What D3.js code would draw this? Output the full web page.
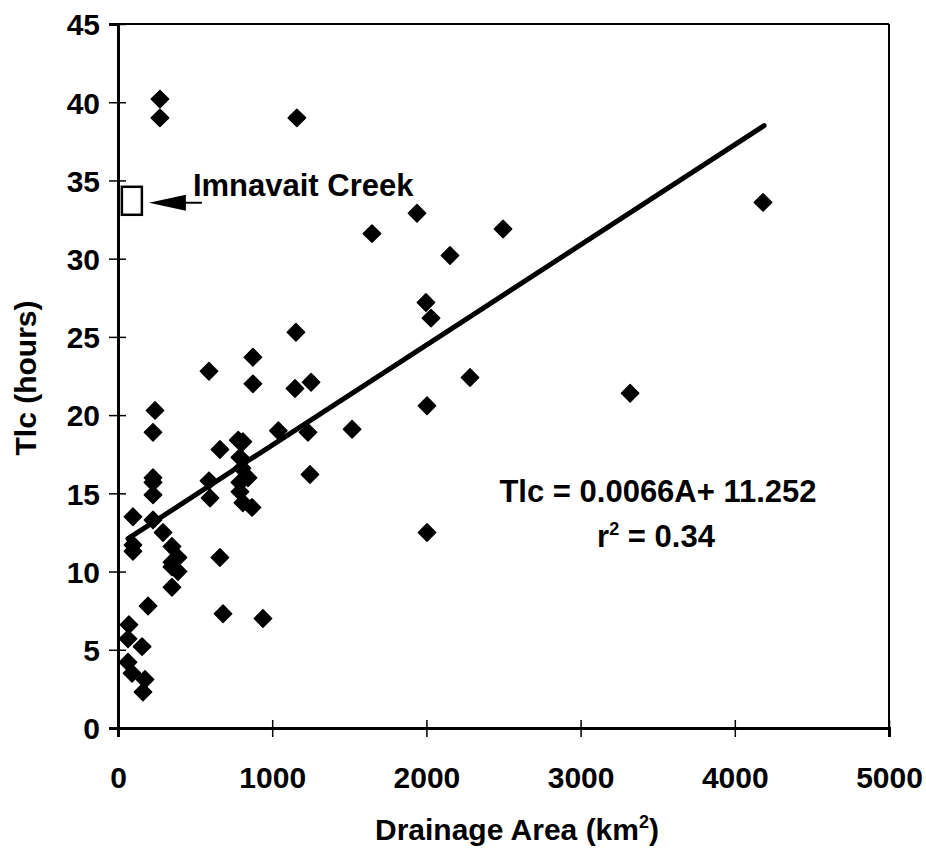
<!DOCTYPE html>
<html>
<head>
<meta charset="utf-8">
<script src="https://cdn.jsdelivr.net/npm/d3@7"></script>
<style>
  html, body { margin: 0; padding: 0; background: #fff; }
  svg { display: block; }
  text { font-family: "Liberation Sans", Arial, sans-serif; font-weight: bold; fill: #000; }
</style>
</head>
<body>
<svg id="chart" width="926" height="858"></svg>
<script>
// ---- data ----
const drainageArea = [
  272, 272, 1160,
  1939, 1647, 2497, 2153, 1997, 2030, 1154, 875, 590, 875, 1148, 1252, 2283,
  4183, 3321,
  1040, 1232, 1518, 1245, 2004, 2004,
  240, 227, 227, 227, 227, 97, 227, 292, 97, 97, 350, 389, 350, 389, 350, 350,
  661, 661, 590, 597,
  780, 810, 791, 804, 843, 791, 791, 810, 869,
  195, 681, 940, 71, 65, 156, 65, 91, 175, 162
];
const tlcHours = [
  40.2, 39.0, 39.0,
  32.9, 31.6, 31.9, 30.2, 27.2, 26.2, 25.3, 23.7, 22.8, 22.0, 21.7, 22.1, 22.4,
  33.6, 21.4,
  19.0, 18.9, 19.1, 16.2, 20.6, 12.5,
  20.3, 18.9, 16.0, 15.7, 14.9, 13.5, 13.3, 12.5, 11.7, 11.3, 11.6, 10.9, 10.6, 10.0, 10.3, 9.0,
  10.9, 17.8, 15.8, 14.7,
  18.4, 18.3, 17.3, 16.6, 16.0, 15.7, 15.1, 14.4, 14.1,
  7.8, 7.3, 7.0, 6.6, 5.7, 5.2, 4.2, 3.5, 3.1, 2.3
];
const xTicks = [0, 1000, 2000, 3000, 4000, 5000];
const yTicks = [0, 5, 10, 15, 20, 25, 30, 35, 40, 45];
// fitted line as drawn in the reference (end points)
const trendArea = [65, 4190];
const trendTlc = [12.1, 38.5];
const imnavaitArea = [90];
const imnavaitTlc = [33.7];
const imnavaitLabel = "Imnavait Creek";
const eqLabel = "Tlc = 0.0066A+ 11.252";
const r2Value = "0.34";

// ---- layout ----
const svg = d3.select("#chart");
const pLeft = 118, pRight = 889, pTop = 24, pBottom = 728;
const x = d3.scaleLinear().domain([0, 5000]).range([pLeft, pRight]);
const y = d3.scaleLinear().domain([0, 45]).range([pBottom, pTop]);

// frame (top & right thinner)
svg.append("line").attr("x1", pLeft).attr("x2", pRight).attr("y1", pTop).attr("y2", pTop)
  .attr("stroke", "#000").attr("stroke-width", 2);
svg.append("line").attr("x1", pRight).attr("x2", pRight).attr("y1", pTop).attr("y2", pBottom)
  .attr("stroke", "#000").attr("stroke-width", 2);

// x axis
const gx = svg.append("g").attr("transform", `translate(0,${pBottom})`)
  .call(d3.axisBottom(x).tickValues(xTicks).tickSize(9).tickPadding(0).tickFormat(d3.format("d")));
gx.select(".domain").attr("stroke-width", 3);
gx.selectAll(".tick line").attr("y1", -8).attr("stroke-width", 1.5);
gx.selectAll(".tick text").attr("y", 60).attr("dy", 0)
  .style("font-size", "30px").style("font-family", "Liberation Sans, Arial, sans-serif").style("font-weight", "bold");

// y axis
const gy = svg.append("g").attr("transform", `translate(${pLeft},0)`)
  .call(d3.axisLeft(y).tickValues(yTicks).tickSize(9).tickPadding(0).tickFormat(d3.format("d")));
gy.select(".domain").attr("stroke-width", 3);
gy.selectAll(".tick line").attr("x1", 8).attr("stroke-width", 1.5);
gy.selectAll(".tick text").attr("x", -18).attr("dy", "0.36em")
  .style("font-size", "30px").style("font-family", "Liberation Sans, Arial, sans-serif").style("font-weight", "bold");
gy.selectAll(".domain, .tick line").attr("stroke", "#000");
gx.selectAll(".domain, .tick line").attr("stroke", "#000");

// regression line
const trend = trendArea.map((a, i) => [a, trendTlc[i]]);
svg.append("path").datum(trend)
  .attr("d", d3.line().x(d => x(d[0])).y(d => y(d[1])))
  .attr("fill", "none").attr("stroke", "#000").attr("stroke-width", 5).attr("stroke-linecap", "round");

// points (diamonds)
const pts = drainageArea.map((a, i) => ({ a, t: tlcHours[i] }));
svg.append("g").selectAll("path").data(pts).join("path")
  .attr("d", d3.symbol().type(d3.symbolSquare).size(150))
  .attr("transform", d => `translate(${x(d.a)},${y(d.t)}) rotate(45)`)
  .attr("fill", "#000")
  .attr("stroke", "#000").attr("stroke-width", 1.5).attr("stroke-linejoin", "round");

// Imnavait Creek marker + arrow + label
const ix = x(imnavaitArea[0]), iy = y(imnavaitTlc[0]);
svg.append("rect").attr("x", ix - 10).attr("y", iy - 14).attr("width", 20).attr("height", 28)
  .attr("fill", "#fff").attr("stroke", "#000").attr("stroke-width", 2.5);
svg.append("line").attr("x1", ix + 34).attr("x2", ix + 70).attr("y1", iy + 2).attr("y2", iy + 2)
  .attr("stroke", "#000").attr("stroke-width", 2);
svg.append("path")
  .attr("d", `M${ix + 17},${iy + 2} L${ix + 54},${iy - 6} L${ix + 54},${iy + 10} Z`)
  .attr("fill", "#000");
svg.append("text").attr("x", ix + 61).attr("y", iy - 5)
  .style("font-size", "31px").text(imnavaitLabel);

// equation
svg.append("text").attr("x", 658).attr("y", 502).attr("text-anchor", "middle")
  .style("font-size", "31px").text(eqLabel);
const r2 = svg.append("text").attr("x", 656).attr("y", 547).attr("text-anchor", "middle")
  .style("font-size", "31px");
r2.append("tspan").text("r");
r2.append("tspan").attr("dy", -12).style("font-size", "18px").text("2");
r2.append("tspan").attr("dy", 12).text(" = " + r2Value);

// axis titles
svg.append("text").attr("transform", "translate(36,378) rotate(-90)")
  .attr("text-anchor", "middle").style("font-size", "30px").text("Tlc (hours)");
const xt = svg.append("text").attr("x", 517).attr("y", 840).attr("text-anchor", "middle")
  .style("font-size", "30px");
xt.append("tspan").text("Drainage Area (km");
xt.append("tspan").attr("dy", -12).style("font-size", "18px").text("2");
xt.append("tspan").attr("dy", 12).text(")");
</script>
</body>
</html>
